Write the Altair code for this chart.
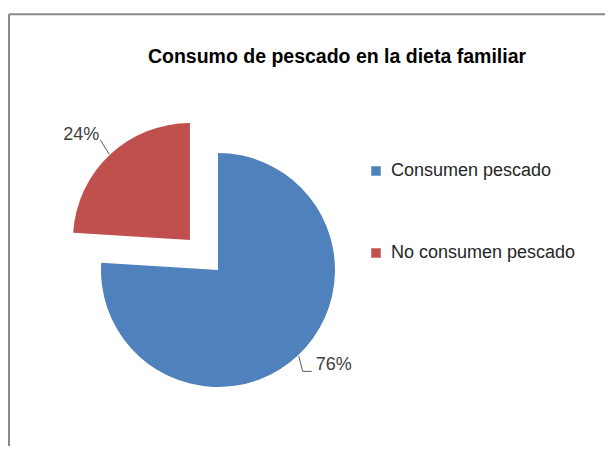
import json
import altair as alt
import pandas as pd

# ---- data ----
categories = ["Consumen pescado", "No consumen pescado"]
values = [76, 24]
pct_labels = ["76%", "24%"]
TITLE = "Consumo de pescado en la dieta familiar"

# ---- styling / layout ----
COLORS = ["#4F81BD", "#C0504D"]
CX, CY, R = 210, 262, 117
EXPLODE = [0, 41]
LABEL_R = 150
LABEL_NX = [13, -6]
LABEL_NY = [-14, 4]
LEADER_R = 118
ELBOW_X = [-31, 19]
ELBOW_Y = [6, 5]
END_X = [-22, 19]
END_Y = [6, 5]
FONT = "Liberation Sans"


def pick(arr):
    return f"{json.dumps(arr)}[indexof({json.dumps(categories)}, datum.cat)]"


df = pd.DataFrame({"cat": categories, "value": values, "label": pct_labels})

base = (
    alt.Chart(df)
    .transform_calculate(order=f"indexof({json.dumps(categories)}, datum.cat)")
    .transform_window(cum="sum(value)", sort=[alt.SortField("order")], frame=[None, 0])
    .transform_joinaggregate(total="sum(value)")
    .transform_calculate(
        start="(datum.cum - datum.value) / datum.total * 2 * PI",
        end="datum.cum / datum.total * 2 * PI",
    )
    .transform_calculate(mid="(datum.start + datum.end) / 2", ex=pick(EXPLODE))
    .transform_calculate(
        cx=f"{CX} + datum.ex * sin(datum.mid)",
        cy=f"{CY} - datum.ex * cos(datum.mid)",
    )
    .transform_calculate(
        lx=f"datum.cx + {LABEL_R} * sin(datum.mid) + {pick(LABEL_NX)}",
        ly=f"datum.cy - {LABEL_R} * cos(datum.mid) + {pick(LABEL_NY)}",
        sx=f"datum.cx + {LEADER_R} * sin(datum.mid)",
        sy=f"datum.cy - {LEADER_R} * cos(datum.mid)",
    )
    .transform_calculate(
        ex1=f"datum.lx + {pick(ELBOW_X)}",
        ey1=f"datum.ly + {pick(ELBOW_Y)}",
        ex2=f"datum.lx + {pick(END_X)}",
        ey2=f"datum.ly + {pick(END_Y)}",
    )
)

wedges = base.mark_arc(radius=R, stroke="white", strokeWidth=0).encode(
    x=alt.X("cx:Q", scale=None, axis=None),
    y=alt.Y("cy:Q", scale=None, axis=None),
    theta=alt.Theta("start:Q", scale=None, stack=None),
    theta2=alt.Theta2("end:Q"),
    color=alt.Color(
        "cat:N",
        scale=alt.Scale(domain=categories, range=COLORS),
        legend=alt.Legend(
            title=None,
            orient="none",
            legendX=359,
            legendY=154,
            symbolType="square",
            symbolSize=90,
            symbolStrokeWidth=0,
            symbolOpacity=1,
            labelFont=FONT,
            labelFontSize=18,
            labelColor="#262626",
            labelOffset=6,
            labelLimit=400,
            rowPadding=64,
            padding=0,
        ),
    ),
)

labels = base.mark_text(
    font=FONT, fontSize=18, color="#404040", align="center", baseline="middle"
).encode(
    x=alt.X("lx:Q", scale=None, axis=None),
    y=alt.Y("ly:Q", scale=None, axis=None),
    text="label:N",
)

leader1 = base.mark_rule(color="#595959", strokeWidth=1).encode(
    x=alt.X("sx:Q", scale=None, axis=None),
    y=alt.Y("sy:Q", scale=None, axis=None),
    x2="ex1:Q",
    y2="ey1:Q",
)
leader2 = base.mark_rule(color="#595959", strokeWidth=1).encode(
    x=alt.X("ex1:Q", scale=None, axis=None),
    y=alt.Y("ey1:Q", scale=None, axis=None),
    x2="ex2:Q",
    y2="ey2:Q",
)

title = alt.Chart(pd.DataFrame({"t": [TITLE]})).mark_text(
    font=FONT, fontSize=19.5, fontWeight="bold", color="#000000",
    align="center", baseline="middle",
).encode(x=alt.value(329), y=alt.value(49), text="t:N")

frame_df = pd.DataFrame({"k": [0]})
frame_top = alt.Chart(frame_df).mark_rule(color="#888888", strokeWidth=2).encode(
    x=alt.value(1), x2=alt.value(605), y=alt.value(6.3)
)
frame_left = alt.Chart(frame_df).mark_rule(color="#888888", strokeWidth=2).encode(
    x=alt.value(1), y=alt.value(6.3), y2=alt.value(460)
)

chart = (
    alt.layer(frame_top, frame_left, wedges, leader1, leader2, labels, title)
    .properties(width=597, height=438, padding=0, autosize=alt.AutoSizeParams(type="none"))
    .configure_view(strokeWidth=0)
)

chart.save("out.html", embed_options={"renderer": "svg", "actions": False})
